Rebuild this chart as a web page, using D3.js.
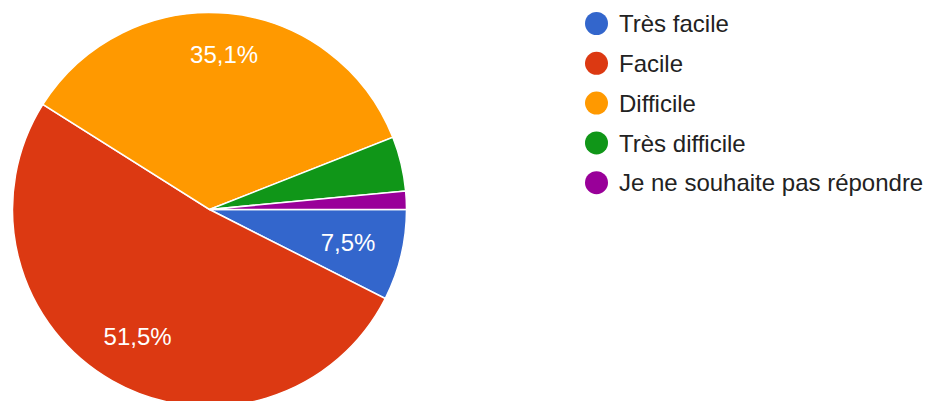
<!DOCTYPE html>
<html>
<head>
<meta charset="utf-8">
<script src="https://cdn.jsdelivr.net/npm/d3@7"></script>
<style>
  body { margin: 0; background: #fff; }
  svg { display: block; font-family: Arial, "Liberation Sans", sans-serif; }
</style>
</head>
<body>
<svg id="chart" width="930" height="401"></svg>
<script>
// responses per answer (n = 134)
var categories = ["Très facile", "Facile", "Difficile", "Très difficile", "Je ne souhaite pas répondre"];
var counts = [10, 69, 47, 6, 2];
var colors = ["#3366cc", "#dc3912", "#ff9900", "#109618", "#990099"];
// where each percentage sits, as a share of the radius
var labelRadius = [0.723, 0.74, 0.792, 0.75, 0.75];

var svg = d3.select("#chart");

var cx = 209.5,
  cy = 209.5,
  radius = 197;

var total = d3.sum(counts);
var data = categories.map(function (c, i) {
  return { name: c, value: counts[i], color: colors[i], lr: labelRadius[i] };
});

// google style pie: starts at 3 o'clock and runs clockwise
var pie = d3
  .pie()
  .sort(null)
  .value(function (d) { return d.value; })
  .startAngle(Math.PI / 2)
  .endAngle(Math.PI / 2 + 2 * Math.PI);

var arc = d3.arc().innerRadius(0).outerRadius(radius);

var g = svg.append("g").attr("transform", "translate(" + cx + "," + cy + ")");

var arcs = pie(data);

g.selectAll("path.slice")
  .data(arcs)
  .enter()
  .append("path")
  .attr("class", "slice")
  .attr("d", arc)
  .attr("fill", function (d) { return d.data.color; })
  .attr("stroke", "#fff")
  .attr("stroke-width", 1.5);

var fmt = function (v) {
  return (v / total * 100).toFixed(1).replace(".", ",") + "%";
};

g.selectAll("text.pct")
  .data(arcs.filter(function (d) { return d.data.value / total > 0.05; }))
  .enter()
  .append("text")
  .attr("class", "pct")
  .attr("transform", function (d) {
    var r = radius * d.data.lr;
    var p = d3.arc().innerRadius(r).outerRadius(r).centroid(d);
    return "translate(" + p + ")";
  })
  .attr("text-anchor", "middle")
  .attr("dy", "0.36em")
  .attr("fill", "#fff")
  .attr("font-size", 24)
  .text(function (d) { return fmt(d.data.value); });

// legend
var legend = svg.append("g").attr("transform", "translate(596.5,23.5)");

var item = legend
  .selectAll("g.item")
  .data(data)
  .enter()
  .append("g")
  .attr("class", "item")
  .attr("transform", function (d, i) { return "translate(0," + i * 39.8 + ")"; });

item.append("circle")
  .attr("r", 11.5)
  .attr("fill", function (d) { return d.color; });

item.append("text")
  .attr("x", 22.5)
  .attr("dy", "0.36em")
  .attr("fill", "#222")
  .attr("font-size", 24)
  .text(function (d) { return d.name; });
</script>
</body>
</html>
